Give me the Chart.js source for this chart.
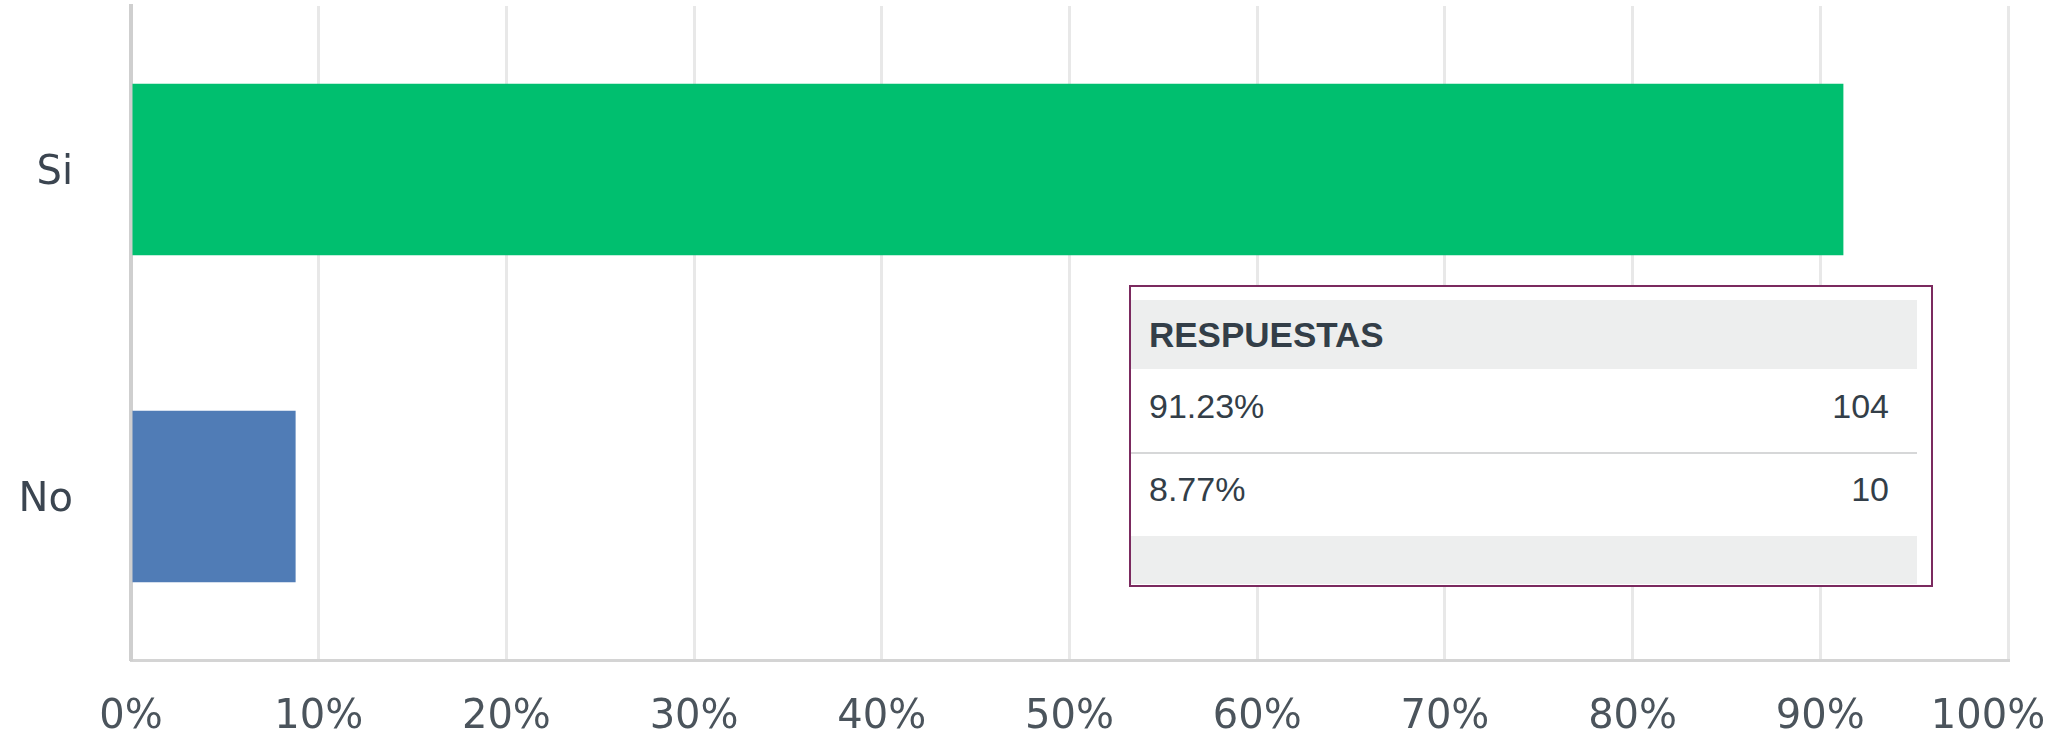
<!DOCTYPE html>
<html>
<head>
<meta charset="utf-8">
<script src="https://cdn.jsdelivr.net/npm/chart.js@4/dist/chart.umd.min.js"></script>
<style>
  html, body { margin: 0; padding: 0; background: #fff; }
  #wrap { position: relative; width: 2056px; height: 735px; }
  #chart { position: absolute; left: 0; top: 0; }
  #answers {
    position: absolute; left: 1129px; top: 285px; width: 800px; height: 298px;
    border: 2px solid #7b2a5f; background: #fff; box-sizing: content-box;
    font-family: "Liberation Sans", Arial, sans-serif; color: #333e48;
  }
  #answers .head {
    position: absolute; left: 0; top: 13px; width: 786px; height: 69px;
    background: #edeeee; font-weight: bold; font-size: 35px;
    line-height: 69px; padding-left: 18px; box-sizing: border-box;
  }
  #answers .row {
    position: absolute; left: 0; width: 786px; font-size: 34px;
    padding: 0 28px 0 18px; box-sizing: border-box;
    display: flex; justify-content: space-between;
  }
  #answers .sep { position: absolute; left: 0; width: 786px; height: 2px; background: #d6d7d8; }
  #answers .foot {
    position: absolute; left: 0; top: 249px; width: 786px; height: 48px; background: #edeeee;
  }
</style>
</head>
<body>
<div id="wrap">
  <canvas id="chart" width="2056" height="735"></canvas>
  <div id="answers"></div>
</div>
<script>
  const categories = ['Si', 'No'];
  const percentValues = [91.23, 8.77];
  const answerCounts = [104, 10];
  const barColors = ['#00bf6f', '#507cb6'];
  const tableTitle = 'RESPUESTAS';

  // answers table shown over the chart
  (function buildTable() {
    const box = document.getElementById('answers');
    let html = '<div class="head">' + tableTitle + '</div>';
    const rowCenters = [119, 202];
    percentValues.forEach((p, i) => {
      html += '<div class="row" style="top:' + (rowCenters[i] - 20) + 'px;line-height:40px">' +
        '<span>' + p.toFixed(2) + '%</span><span>' + answerCounts[i] + '</span></div>';
    });
    html += '<div class="sep" style="top:165px"></div>';
    html += '<div class="foot"></div>';
    box.innerHTML = html;
  })();

  const data = {
    labels: categories,
    datasets: [
      {
        data: percentValues,
        backgroundColor: barColors,
        borderWidth: 0,
        barPercentage: 0.525,
        categoryPercentage: 1,
      },
    ],
  };

  const config = {
    type: 'bar',
    data,
    options: {
      indexAxis: 'y',
      responsive: false,
      animation: false,
      layout: { padding: { top: 6, right: 0, left: 0, bottom: 0 } },
      scales: {
        x: {
          min: 0,
          max: 100,
          ticks: {
            stepSize: 10,
            padding: 34,
            color: '#4b545c',
            font: { family: 'DejaVu Sans', size: 40 },
            // last label sits a bit left so it stays inside the picture
            callback: (v) => (v === 100 ? v + '%\u2003' : v + '%'),
          },
          grid: { color: '#e8e8e8', lineWidth: 3, drawTicks: false },
          border: { display: true, color: '#d4d4d4', width: 3 },
          afterFit: (scale) => {
            scale.height = 75;
            scale.paddingLeft = 0;
            scale.paddingRight = 48;
          },
        },
        y: {
          ticks: {
            padding: 58,
            labelOffset: 4,
            color: '#3b4550',
            font: { family: 'DejaVu Sans', size: 40 },
          },
          grid: { display: false, drawTicks: false },
          border: { display: true, color: '#cfcfcf', width: 4 },
          afterFit: (scale) => {
            scale.width = 131;
            scale.paddingTop = 0;
            scale.paddingBottom = 0;
          },
        },
      },
      plugins: {
        legend: { display: false },
        tooltip: { enabled: false },
      },
    },
  };

  const barChart = new Chart(document.getElementById('chart'), config);
</script>
</body>
</html>
